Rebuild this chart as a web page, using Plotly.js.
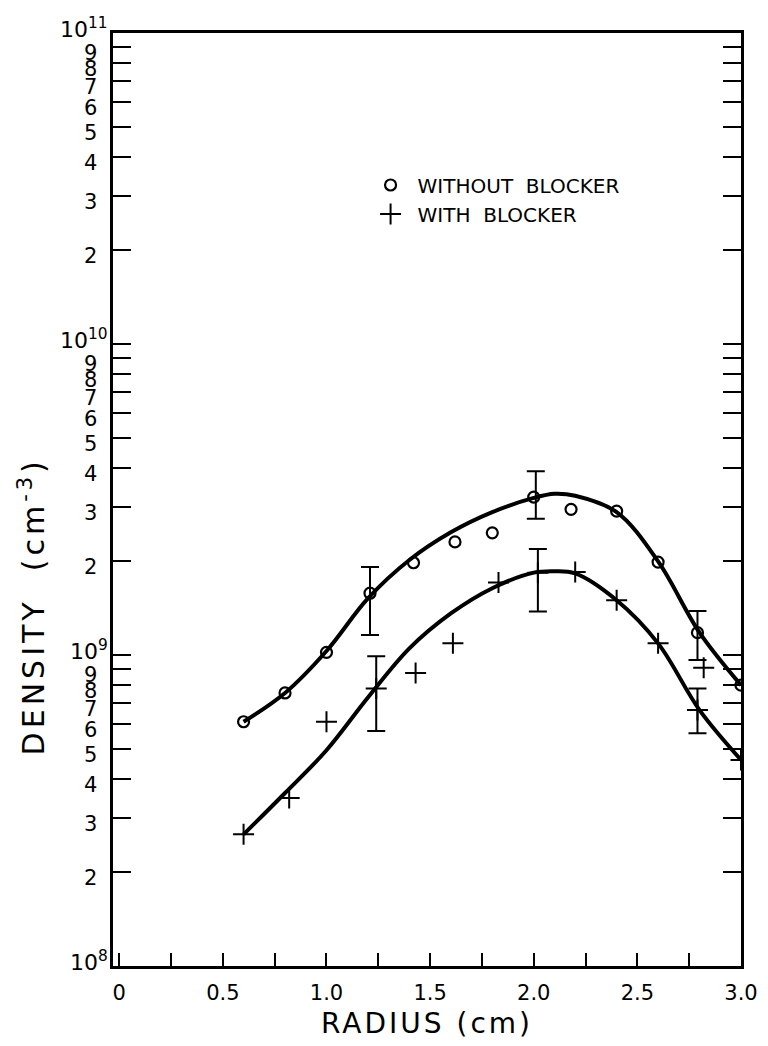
<!DOCTYPE html>
<html>
<head>
<meta charset="utf-8">
<script src="https://cdn.plot.ly/plotly-3.0.1.min.js"></script>
<style>
html,body{margin:0;padding:0;background:#fff;}
#chart{width:768px;height:1046px;}
.xtitle{letter-spacing:3px;}
g.annotation[data-index="0"] text{letter-spacing:4px;}
</style>
</head>
<body>
<div id="chart"></div>
<script>
// ---- data ----
const radiusWithout  = [0.6, 0.8, 1.0, 1.21, 1.42, 1.62, 1.8, 2.0, 2.18, 2.4, 2.6, 2.79, 3.0];
const densityWithout = [6.1e8, 7.55e8, 1.02e9, 1.58e9, 1.98e9, 2.31e9, 2.47e9, 3.22e9, 2.94e9, 2.9e9, 1.99e9, 1.18e9, 8.0e8];

const radiusWith  = [0.6, 0.82, 1.0, 1.24, 1.43, 1.61, 1.83, 2.02, 2.2, 2.4, 2.6, 2.79, 2.82, 3.0];
const densityWith = [2.65e8, 3.47e8, 6.1e8, 7.8e8, 8.75e8, 1.09e9, 1.71e9, 1.84e9, 1.85e9, 1.5e9, 1.09e9, 6.65e8, 9.1e8, 4.6e8];

// error bars
const errRadiusWithout = [1.21, 2.01, 2.79];
const errMidWithout    = [1.58e9, 3.22e9, 1.18e9];
const errHighWithout   = [1.92e9, 3.9e9, 1.385e9];
const errLowWithout    = [1.16e9, 2.74e9, 9.64e8];

const errRadiusWith = [1.24, 2.02, 2.79];
const errMidWith    = [7.8e8, 1.84e9, 6.65e8];
const errHighWith   = [9.9e8, 2.19e9, 7.8e8];
const errLowWith    = [5.7e8, 1.38e9, 5.6e8];

// hand-drawn fitted curves
const fitRadius  = [0.6, 0.8, 1.0, 1.2, 1.4, 1.6, 1.8, 2.0, 2.1, 2.2, 2.4, 2.6, 2.8, 3.0];
const fitWithout = [6.1e8, 7.55e8, 1.03e9, 1.52e9, 2.02e9, 2.48e9, 2.88e9, 3.2e9, 3.3e9, 3.25e9, 2.88e9, 2.0e9, 1.18e9, 8.0e8];
const fitWith    = [2.65e8, 3.6e8, 4.94e8, 7.3e8, 1.05e9, 1.36e9, 1.64e9, 1.84e9, 1.86e9, 1.83e9, 1.5e9, 1.09e9, 6.65e8, 4.6e8];

// tick labels
const xTickVals = [0, 0.25, 0.5, 0.75, 1.0, 1.25, 1.5, 1.75, 2.0, 2.25, 2.5, 2.75, 3.0];
const xTickText = ['0', '', '0.5', '', '1.0', '', '1.5', '', '2.0', '', '2.5', '', '3.0'];
const yTickVals = [1e8,2e8,3e8,4e8,5e8,6e8,7e8,8e8,9e8,
                   1e9,2e9,3e9,4e9,5e9,6e9,7e9,8e9,9e9,
                   1e10,2e10,3e10,4e10,5e10,6e10,7e10,8e10,9e10,1e11];
const yTickText = ['10<sup>8</sup>','2','3','4','5','6','7','8','9',
                   '10<sup>9</sup>','2','3','4','5','6','7','8','9',
                   '10<sup>10</sup>','2','3','4','5','6','7','8','9','10<sup>11</sup>'];

const labelWithout = 'WITHOUT  BLOCKER';
const labelWith = 'WITH  BLOCKER';
const yTitle = 'DENSITY  (cm<sup>-3</sup>)';
const xTitle = 'RADIUS (cm)';

// ---- traces ----
function errArrays(mid, hi, lo) {
  return {
    plus: mid.map((m, i) => hi[i] - m),
    minus: mid.map((m, i) => m - lo[i])
  };
}
const eW = errArrays(errMidWithout, errHighWithout, errLowWithout);
const eB = errArrays(errMidWith, errHighWith, errLowWith);

const curveLine = {color: '#000', width: 4, shape: 'spline', smoothing: 1};
const traces = [
  {x: fitRadius, y: fitWithout, mode: 'lines', line: curveLine, showlegend: false, hoverinfo: 'skip'},
  {x: fitRadius, y: fitWith, mode: 'lines', line: curveLine, showlegend: false, hoverinfo: 'skip'},
  {x: errRadiusWithout, y: errMidWithout, mode: 'markers', marker: {color: 'rgba(0,0,0,0)', size: 1},
   error_y: {type: 'data', symmetric: false, array: eW.plus, arrayminus: eW.minus, color: '#000', thickness: 2, width: 9},
   showlegend: false, hoverinfo: 'skip'},
  {x: errRadiusWith, y: errMidWith, mode: 'markers', marker: {color: 'rgba(0,0,0,0)', size: 1},
   error_y: {type: 'data', symmetric: false, array: eB.plus, arrayminus: eB.minus, color: '#000', thickness: 2, width: 9},
   showlegend: false, hoverinfo: 'skip'},
  {x: radiusWithout, y: densityWithout, mode: 'markers', name: labelWithout,
   marker: {symbol: 'circle-open', size: 11, color: '#000', line: {width: 2.2, color: '#000'}}},
  {x: radiusWith, y: densityWith, mode: 'markers', name: labelWith,
   marker: {symbol: 'cross-thin-open', size: 15, color: '#000', line: {width: 2, color: '#000'}}}
];

// y-axis title (first annotation) and tick labels as annotations on the log axis
const annotations = [{
  text: yTitle, textangle: -90, showarrow: false,
  xref: 'paper', yref: 'paper', x: -0.128, y: 0.385, xanchor: 'center', yanchor: 'middle',
  font: {size: 30, color: '#000'}
}];
yTickVals.forEach((v, i) => {
  const isPow = yTickText[i].indexOf('<sup>') >= 0;
  annotations.push({
    text: yTickText[i], showarrow: false, borderpad: 0,
    xref: 'paper', yref: 'y', x: 0, y: Math.log10(v),
    xanchor: 'right', yanchor: 'middle',
    xshift: isPow ? -4 : -15,
    yshift: isPow ? 5 : -6,
    font: {size: isPow ? 22 : 21, color: '#000'}
  });
});

const layout = {
  width: 768, height: 1046,
  margin: {l: 113, r: 27, t: 33, b: 80},
  paper_bgcolor: '#fff', plot_bgcolor: '#fff',
  font: {family: 'DejaVu Sans, sans-serif', color: '#000', size: 18},
  showlegend: true,
  legend: {x: 0.399, y: 0.858, xanchor: 'left', yanchor: 'top', bgcolor: 'rgba(0,0,0,0)',
           font: {size: 20, color: '#000'}, itemwidth: 44, tracegroupgap: 0},
  annotations: annotations,
  xaxis: {
    range: [-0.03, 3.0], showgrid: false, zeroline: false,
    showline: true, linewidth: 3, linecolor: '#000', mirror: true,
    ticks: 'inside', ticklen: 13, tickwidth: 2, tickcolor: '#000',
    tickmode: 'array', tickvals: xTickVals, ticktext: xTickText,
    tickfont: {size: 21}, ticklabelstandoff: 6,
    title: {text: xTitle, font: {size: 28}, standoff: 10}
  },
  yaxis: {
    type: 'log', range: [8, 11], showgrid: false, zeroline: false,
    showline: true, linewidth: 3, linecolor: '#000', mirror: 'ticks',
    ticks: 'inside', ticklen: 18, tickwidth: 2, tickcolor: '#000',
    tickmode: 'array', tickvals: yTickVals, showticklabels: false
  }
};

Plotly.newPlot('chart', traces, layout, {staticPlot: true, displayModeBar: false});
</script>
</body>
</html>
